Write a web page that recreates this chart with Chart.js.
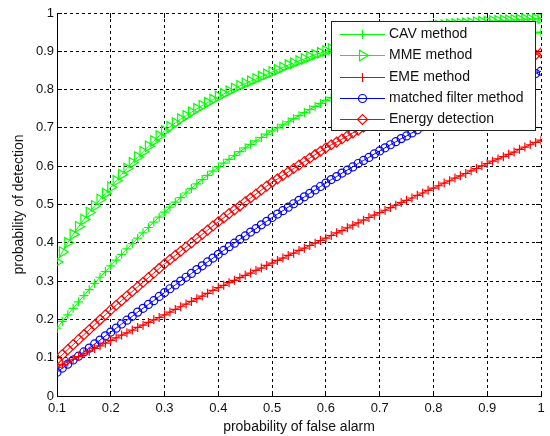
<!DOCTYPE html>
<html>
<head>
<meta charset="utf-8">
<script src="https://cdn.jsdelivr.net/npm/chart.js@4/dist/chart.umd.min.js"></script>
<style>
  body { margin: 0; background: #fff; }
  canvas { display: block; }
</style>
</head>
<body>
<canvas id="roc" width="550" height="436"></canvas>
<script>
// probability of false alarm (x)
const pfa = [
  0.10, 0.11, 0.12, 0.13, 0.14, 0.15, 0.16, 0.17, 0.18, 0.19, 0.20,
  0.21, 0.22, 0.23, 0.24, 0.25, 0.26, 0.27, 0.28, 0.29, 0.30,
  0.31, 0.32, 0.33, 0.34, 0.35, 0.36, 0.37, 0.38, 0.39, 0.40,
  0.41, 0.42, 0.43, 0.44, 0.45, 0.46, 0.47, 0.48, 0.49, 0.50,
  0.51, 0.52, 0.53, 0.54, 0.55, 0.56, 0.57, 0.58, 0.59, 0.60,
  0.61, 0.62, 0.63, 0.64, 0.65, 0.66, 0.67, 0.68, 0.69, 0.70,
  0.71, 0.72, 0.73, 0.74, 0.75, 0.76, 0.77, 0.78, 0.79, 0.80,
  0.81, 0.82, 0.83, 0.84, 0.85, 0.86, 0.87, 0.88, 0.89, 0.90,
  0.91, 0.92, 0.93, 0.94, 0.95, 0.96, 0.97, 0.98, 0.99, 1.00
];

const cav = [
  0.177,
  0.195, 0.212, 0.229, 0.246, 0.262, 0.278, 0.294, 0.310, 0.325, 0.340,
  0.355, 0.370, 0.384, 0.398, 0.412, 0.426, 0.440, 0.454, 0.467, 0.480,
  0.493, 0.506, 0.518, 0.530, 0.542, 0.554, 0.565, 0.576, 0.587, 0.598,
  0.608, 0.618, 0.628, 0.638, 0.648, 0.657, 0.666, 0.675, 0.684, 0.692,
  0.700, 0.708, 0.716, 0.724, 0.732, 0.740, 0.748, 0.756, 0.764, 0.772,
  0.779, 0.786, 0.793, 0.799, 0.805, 0.812, 0.818, 0.824, 0.830, 0.836,
  0.841, 0.846, 0.851, 0.856, 0.861, 0.866, 0.871, 0.876, 0.881, 0.886,
  0.890, 0.894, 0.898, 0.902, 0.905, 0.909, 0.912, 0.915, 0.919, 0.922,
  0.925, 0.928, 0.931, 0.934, 0.937, 0.940, 0.942, 0.945, 0.948, 0.950
];

const mme = [
  0.350,
  0.376, 0.400, 0.422, 0.442, 0.461, 0.479, 0.496, 0.513, 0.529, 0.545,
  0.562, 0.578, 0.594, 0.609, 0.624, 0.638, 0.652, 0.666, 0.679, 0.692,
  0.703, 0.713, 0.723, 0.732, 0.741, 0.750, 0.758, 0.766, 0.774, 0.782,
  0.789, 0.796, 0.803, 0.810, 0.816, 0.822, 0.828, 0.834, 0.840, 0.846,
  0.852, 0.858, 0.864, 0.869, 0.875, 0.880, 0.886, 0.891, 0.896, 0.901,
  0.906, 0.911, 0.916, 0.920, 0.924, 0.928, 0.932, 0.935, 0.939, 0.942,
  0.945, 0.948, 0.950, 0.953, 0.955, 0.957, 0.959, 0.961, 0.963, 0.965,
  0.967, 0.968, 0.970, 0.971, 0.972, 0.973, 0.974, 0.976, 0.977, 0.978,
  0.979, 0.980, 0.981, 0.981, 0.982, 0.983, 0.984, 0.984, 0.985, 0.986
];

const eme = [
  0.075,
  0.082, 0.089, 0.096, 0.103, 0.110, 0.117, 0.124, 0.131, 0.138, 0.145,
  0.152, 0.159, 0.165, 0.172, 0.179, 0.185, 0.192, 0.199, 0.205, 0.212,
  0.219, 0.226, 0.233, 0.240, 0.247, 0.254, 0.261, 0.268, 0.276, 0.283,
  0.289, 0.296, 0.302, 0.309, 0.315, 0.321, 0.328, 0.334, 0.341, 0.347,
  0.354, 0.360, 0.367, 0.373, 0.380, 0.386, 0.393, 0.399, 0.406, 0.412,
  0.419, 0.426, 0.432, 0.439, 0.446, 0.452, 0.459, 0.466, 0.472, 0.479,
  0.485, 0.492, 0.498, 0.505, 0.511, 0.517, 0.524, 0.530, 0.537, 0.543,
  0.549, 0.556, 0.562, 0.569, 0.575, 0.581, 0.588, 0.594, 0.601, 0.607,
  0.613, 0.619, 0.625, 0.631, 0.637, 0.644, 0.650, 0.656, 0.662, 0.668
];

const matched = [
  0.062,
  0.073, 0.083, 0.094, 0.104, 0.115, 0.125, 0.136, 0.146, 0.157, 0.167,
  0.177, 0.188, 0.198, 0.208, 0.219, 0.229, 0.239, 0.249, 0.260, 0.270,
  0.280, 0.290, 0.300, 0.310, 0.320, 0.330, 0.340, 0.350, 0.360, 0.370,
  0.380, 0.390, 0.399, 0.409, 0.418, 0.428, 0.437, 0.447, 0.456, 0.466,
  0.475, 0.484, 0.493, 0.502, 0.511, 0.520, 0.529, 0.538, 0.547, 0.556,
  0.565, 0.573, 0.582, 0.590, 0.598, 0.607, 0.615, 0.623, 0.632, 0.640,
  0.648, 0.656, 0.664, 0.672, 0.679, 0.687, 0.695, 0.703, 0.710, 0.718,
  0.725, 0.732, 0.739, 0.746, 0.753, 0.760, 0.767, 0.774, 0.781, 0.788,
  0.794, 0.800, 0.806, 0.812, 0.818, 0.824, 0.830, 0.836, 0.842, 0.848
];

const energy = [
  0.095,
  0.108, 0.121, 0.134, 0.147, 0.160, 0.173, 0.186, 0.199, 0.212, 0.225,
  0.237, 0.249, 0.261, 0.273, 0.285, 0.297, 0.309, 0.321, 0.333, 0.345,
  0.356, 0.367, 0.378, 0.389, 0.400, 0.411, 0.422, 0.433, 0.444, 0.455,
  0.465, 0.476, 0.486, 0.496, 0.507, 0.517, 0.527, 0.538, 0.548, 0.558,
  0.567, 0.576, 0.585, 0.594, 0.603, 0.612, 0.621, 0.630, 0.639, 0.648,
  0.656, 0.663, 0.671, 0.679, 0.687, 0.694, 0.702, 0.710, 0.717, 0.725,
  0.732, 0.738, 0.745, 0.751, 0.758, 0.764, 0.771, 0.777, 0.784, 0.790,
  0.796, 0.801, 0.807, 0.812, 0.818, 0.824, 0.829, 0.835, 0.840, 0.846,
  0.851, 0.856, 0.861, 0.866, 0.871, 0.876, 0.881, 0.886, 0.891, 0.896
];

const xTicks = [0.1, 0.2, 0.3, 0.4, 0.5, 0.6, 0.7, 0.8, 0.9, 1];
const yTicks = [0, 0.1, 0.2, 0.3, 0.4, 0.5, 0.6, 0.7, 0.8, 0.9, 1];

const FONT = "'Liberation Sans', Arial, sans-serif";

function pts(values) {
  return pfa.map((x, i) => ({ x: x, y: values[i] }));
}

function series(label, values, color, style, radius, rotation) {
  return {
    label: label,
    data: pts(values),
    borderColor: color,
    borderWidth: 1,
    pointStyle: style,
    pointRadius: radius,
    pointRotation: rotation || 0,
    pointBorderColor: color,
    pointBackgroundColor: "rgba(0,0,0,0)",
    pointBorderWidth: 1.2,
    tension: 0
  };
}

// matlab style inward ticks on all four sides
const innerTicks = {
  id: "innerTicks",
  afterDraw(chart) {
    const ctx = chart.ctx;
    const a = chart.chartArea;
    const sx = chart.scales.x, sy = chart.scales.y;
    const al = p => Math.round(p - 0.5) + 0.5;
    ctx.save();
    ctx.strokeStyle = "#000";
    ctx.lineWidth = 1;
    ctx.beginPath();
    xTicks.forEach(v => {
      const px = al(sx.getPixelForValue(v));
      ctx.moveTo(px, a.bottom); ctx.lineTo(px, a.bottom - 5);
      ctx.moveTo(px, a.top); ctx.lineTo(px, a.top + 5);
    });
    yTicks.forEach(v => {
      const py = al(sy.getPixelForValue(v));
      ctx.moveTo(a.left, py); ctx.lineTo(a.left + 5, py);
      ctx.moveTo(a.right, py); ctx.lineTo(a.right - 5, py);
    });
    ctx.stroke();
    ctx.restore();
  }
};

// legend box inside the plot, top right
const boxLegend = {
  id: "boxLegend",
  afterDraw(chart) {
    const ctx = chart.ctx;
    const a = chart.chartArea;
    const right = Math.round(a.right - 6) + 0.5;
    const left = right - 204;
    const top = Math.round(a.top + 8) + 0.5;
    const rowH = 21.25;
    const h = 109;

    ctx.save();
    ctx.fillStyle = "#fff";
    ctx.fillRect(left, top, right - left, h);
    ctx.strokeStyle = "#222";
    ctx.lineWidth = 1;
    ctx.strokeRect(left, top, right - left, h);

    chart.data.datasets.forEach((ds, i) => {
      const y = Math.round(top + 12.5 + i * rowH) + 0.5;
      ctx.strokeStyle = ds.borderColor;
      ctx.lineWidth = 1;
      ctx.beginPath();
      ctx.moveTo(left + 8.5, y);
      ctx.lineTo(left + 53.5, y);
      ctx.stroke();

      ctx.fillStyle = "rgba(0,0,0,0)";
      ctx.lineWidth = 1.2;
      Chart.helpers.drawPoint(ctx, {
        pointStyle: ds.pointStyle,
        rotation: ds.pointRotation,
        radius: ds.pointRadius,
        borderWidth: 1.2
      }, left + 31, y);

      ctx.fillStyle = "#111";
      ctx.font = "14px " + FONT;
      ctx.textBaseline = "middle";
      ctx.textAlign = "left";
      ctx.fillText(ds.label, left + 57.5, y);
    });
    ctx.restore();
  }
};

new Chart(document.getElementById("roc"), {
  type: "line",
  data: {
    datasets: [
      series("CAV method", cav, "#00ff00", "cross", 4.5),
      series("MME method", mme, "#00ff00", "triangle", 6, 90),
      series("EME method", eme, "#ff0000", "cross", 4.5),
      series("matched filter method", matched, "#0000ff", "circle", 4),
      series("Energy detection", energy, "#ff0000", "rectRot", 5)
    ]
  },
  options: {
    responsive: false,
    animation: false,
    layout: { padding: { top: 13, right: 9, left: 0, bottom: 0 } },
    plugins: {
      legend: { display: false },
      tooltip: { enabled: false }
    },
    scales: {
      x: {
        type: "linear",
        min: 0.1,
        max: 1,
        afterBuildTicks: s => { s.ticks = xTicks.map(v => ({ value: v })); },
        afterFit: s => { s.height = 40; },
        grid: { color: "#000", lineWidth: 1, drawTicks: false },
        border: { display: true, color: "#000", width: 1, dash: [3, 3] },
        ticks: {
          color: "#111",
          padding: 5,
          maxRotation: 0,
          font: { family: FONT, size: 13 },
          callback: v => String(Math.round(v * 10) / 10)
        },
        title: {
          display: true,
          text: "probability of false alarm",
          color: "#111",
          font: { family: FONT, size: 14 },
          padding: { top: 0, bottom: 0 }
        }
      },
      y: {
        type: "linear",
        min: 0,
        max: 1,
        afterBuildTicks: s => { s.ticks = yTicks.map(v => ({ value: v })); },
        afterFit: s => { s.width = 57; },
        grid: { color: "#000", lineWidth: 1, drawTicks: false },
        border: { display: true, color: "#000", width: 1, dash: [3, 3] },
        ticks: {
          color: "#111",
          padding: 3,
          font: { family: FONT, size: 13 },
          callback: v => String(Math.round(v * 10) / 10)
        },
        title: {
          display: true,
          text: "probability of detection",
          color: "#111",
          font: { family: FONT, size: 14 },
          padding: { top: 11, bottom: 0 }
        }
      }
    }
  },
  plugins: [innerTicks, boxLegend]
});
</script>
</body>
</html>
